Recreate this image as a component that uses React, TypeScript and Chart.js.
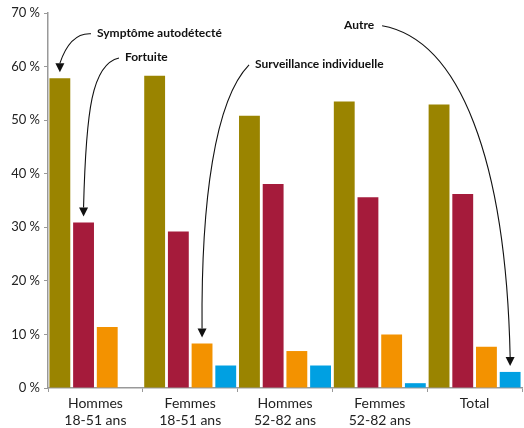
import React, { useEffect, useRef } from "react";
import { Chart, registerables } from "chart.js";

Chart.register(...registerables);

const categories: string[][] = [
  ["Hommes", "18-51 ans"],
  ["Femmes", "18-51 ans"],
  ["Hommes", "52-82 ans"],
  ["Femmes", "52-82 ans"],
  ["Total"],
];
const seriesNames = ["Symptôme autodétecté", "Fortuite", "Surveillance individuelle", "Autre"];
const symptome = [57.8, 58.3, 50.8, 53.5, 52.9];
const fortuite = [30.9, 29.2, 38.1, 35.6, 36.2];
const surveillance = [11.4, 8.3, 6.9, 10.0, 7.7];
const autre = [0, 4.2, 4.2, 0.9, 3.0];
const colors = ["#9a8400", "#a51b3b", "#f39200", "#00a0e2"];

// annotation: text anchor in (category index, %), control points in data space, target bar
const annotations = [
  { text: seriesNames[0], tx: 0.017, ty: 66.3, side: "left", c1: [-0.215, 66.3], c2: [-0.31, 64.0], ds: 0, idx: 0 },
  { text: seriesNames[1], tx: 0.312, ty: 61.8, side: "left", c1: [-0.036, 60.5], c2: [-0.099, 51.9], ds: 1, idx: 0 },
  { text: seriesNames[2], tx: 1.684, ty: 60.5, side: "left", c1: [1.262, 53.8], c2: [1.114, 35.1], ds: 2, idx: 1 },
  { text: seriesNames[3], tx: 2.622, ty: 67.8, side: "right", c1: [3.846, 65.0], c2: [4.33, 42.6], ds: 3, idx: 4 },
];

const FONT = "Lato, 'Open Sans', sans-serif";

const annotationPlugin = {
  id: "arrows",
  afterDraw(chart: any) {
    const ctx = chart.ctx;
    const xs = chart.scales.x;
    const ys = chart.scales.y;
    ctx.save();
    ctx.font = `bold 12px ${FONT}`;
    ctx.fillStyle = "#111";
    ctx.strokeStyle = "#111";
    ctx.lineWidth = 1.1;
    ctx.textBaseline = "middle";
    ctx.textAlign = "left";
    for (const a of annotations) {
      const tx = xs.getPixelForValue(a.tx);
      const ty = ys.getPixelForValue(a.ty);
      ctx.fillText(a.text, tx, ty);
      const w = ctx.measureText(a.text).width;
      const sx = a.side === "left" ? tx - 6 : tx + w + 8;
      const sy = ty + 1;
      const bar = chart.getDatasetMeta(a.ds).data[a.idx];
      const bx = bar.x;
      const tipY = bar.y - 6;
      const ey = tipY - 9;
      ctx.beginPath();
      ctx.moveTo(sx, sy);
      ctx.bezierCurveTo(
        xs.getPixelForValue(a.c1[0]), ys.getPixelForValue(a.c1[1]),
        xs.getPixelForValue(a.c2[0]), ys.getPixelForValue(a.c2[1]),
        bx, ey
      );
      ctx.stroke();
      ctx.beginPath();
      ctx.moveTo(bx - 4.5, ey);
      ctx.lineTo(bx + 4.5, ey);
      ctx.lineTo(bx, tipY);
      ctx.closePath();
      ctx.fill();
    }
    ctx.restore();
  },
};

export default function App() {
  const ref = useRef<HTMLCanvasElement>(null);
  useEffect(() => {
    if (!ref.current) return;
    const data = [symptome, fortuite, surveillance, autre];
    const chart = new Chart(ref.current, {
      type: "bar",
      data: {
        labels: categories,
        datasets: data.map((d, i) => ({
          label: seriesNames[i],
          data: d,
          backgroundColor: colors[i],
          borderWidth: 0,
          barPercentage: 0.88,
          categoryPercentage: 1,
        })),
      },
      options: {
        animation: false,
        responsive: false,
        maintainAspectRatio: false,
        layout: { padding: { top: 13, right: 2, left: 0, bottom: 0 } },
        plugins: { legend: { display: false }, tooltip: { enabled: false } },
        scales: {
          x: {
            grid: { drawOnChartArea: false, tickLength: 4, color: "#999", offset: true },
            border: { color: "#999", width: 1.5 },
            ticks: { color: "#222", font: { family: FONT, size: 14 }, padding: 3, maxRotation: 0, autoSkip: false },
            afterFit: (s: any) => { s.height = 40; },
          },
          y: {
            min: 0,
            max: 70,
            ticks: {
              stepSize: 10,
              color: "#222",
              font: { family: FONT, size: 13 },
              padding: 4,
              callback: (v: any) => `${v} %`,
            },
            grid: { drawOnChartArea: false, tickLength: 4, color: "#999" },
            border: { color: "#999", width: 1.5 },
            afterFit: (s: any) => { s.width = 48; },
          },
        },
      },
      plugins: [annotationPlugin],
    });
    return () => chart.destroy();
  }, []);
  return (
    <div style={{ position: "fixed", left: 0, top: 0, width: 524, height: 428, background: "#fff" }}>
      <canvas ref={ref} width={524} height={428} style={{ width: 524, height: 428 }} />
    </div>
  );
}
